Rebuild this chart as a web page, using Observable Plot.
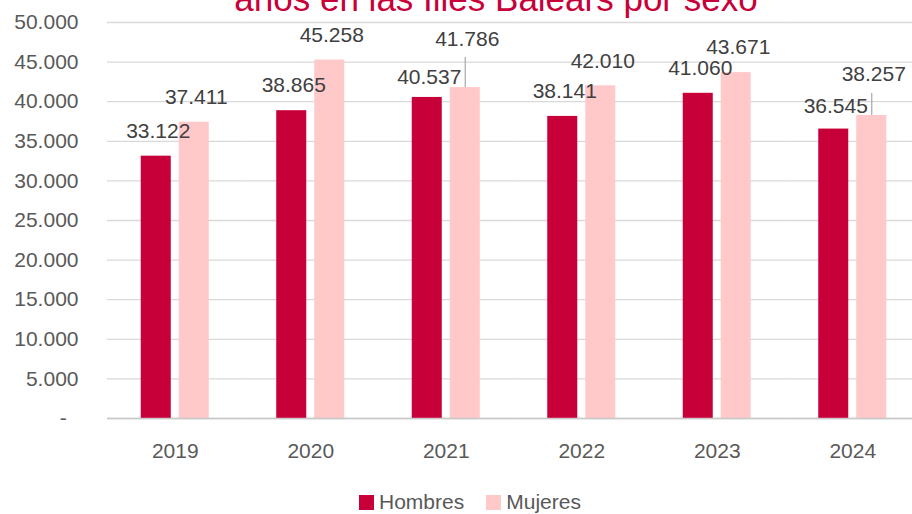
<!DOCTYPE html>
<html><head><meta charset="utf-8">
<script src="https://cdn.jsdelivr.net/npm/d3@7"></script>
<script src="https://cdn.jsdelivr.net/npm/@observablehq/plot@0.6"></script>
<style>
html,body{margin:0;padding:0;width:912px;height:514px;overflow:hidden;background:#fff;font-family:"Liberation Sans",Arial,sans-serif;}
#title{position:absolute;left:0;top:-18px;width:992px;text-align:center;font-size:35px;line-height:34px;color:#C8003A;white-space:nowrap;}
#chart{position:absolute;left:0;top:0;width:912px;height:470px;overflow:hidden;}
#chart svg{max-width:none !important;}
#legend{position:absolute;left:359px;top:490px;display:flex;align-items:center;font-size:21px;color:#595959;line-height:24px;}
#legend .sw{display:inline-block;width:15px;height:15px;margin-right:5px;}
#legend .item{display:flex;align-items:center;margin-right:22px;}
</style>
</head><body>
<div id="title"></div>
<div id="chart"></div>
<div id="legend"></div>
<script>
const years = ["2019", "2020", "2021", "2022", "2023", "2024"];
const hombres = [33122, 38865, 40537, 38141, 41060, 36545];
const mujeres = [37411, 45258, 41786, 42010, 43671, 38257];
const seriesNames = ["Hombres", "Mujeres"];
const seriesColors = ["#C8003A", "#FFC9C9"];
const yTicks = [0, 5000, 10000, 15000, 20000, 25000, 30000, 35000, 40000, 45000, 50000];
const titleText = "años en las Illes Balears por sexo";

// label placement nudges (pixels), default and exceptions
const defaultNudge = [2, -25];
const labelNudge = {"2021|Hombres": [2, -20], "2021|Mujeres": [2, -48], "2024|Hombres": [2, -23], "2024|Mujeres": [2, -41]};
const leaderLen = {"2021|Mujeres": 30, "2024|Mujeres": 22};

const rows = [];
years.forEach((yr, i) => {
  rows.push({year: yr, sex: "Hombres", value: hombres[i]});
  rows.push({year: yr, sex: "Mujeres", value: mujeres[i]});
});

const fmt = v => v === 0 ? "-\u00a0\u00a0" : d3.format(",")(v).replace(/,/g, ".");

document.getElementById("title").textContent = titleText;

const labelMarks = rows.map(r => {
  const k = r.year + "|" + r.sex;
  const [dx, dy] = labelNudge[k] || defaultNudge;
  return Plot.text([r], {fx: "year", x: "sex", y: "value", text: d => fmt(d.value),
    dx, dy, lineAnchor: "middle", fill: "#404040", fontSize: 21});
});
const leaderMarks = rows.filter(r => leaderLen[r.year + "|" + r.sex]).map(r =>
  Plot.ruleX([r], {fx: "year", x: "sex", y1: "value", y2: "value",
    insetTop: -leaderLen[r.year + "|" + r.sex], stroke: "#A6A6A6", strokeWidth: 1.2}));

const chart = Plot.plot({
  width: 920, height: 470,
  marginLeft: 107, marginRight: 0, marginTop: 22, marginBottom: 52,
  style: {fontFamily: "Liberation Sans, Arial, sans-serif", fontSize: "21px", color: "#595959", background: "transparent", overflow: "visible", maxWidth: "none"},
  fx: {domain: years, padding: 0, round: false, label: null},
  x: {domain: seriesNames, paddingInner: 0.21, paddingOuter: 0.888, round: false, axis: null},
  y: {domain: [0, 50000], label: null},
  color: {domain: seriesNames, range: seriesColors},
  marks: [
    Plot.gridY(yTicks, {stroke: "#D9D9D9", strokeOpacity: 1, strokeWidth: 1.3}),
    Plot.axisY(yTicks, {tickFormat: fmt, tickSize: 0, tickPadding: 29, fontSize: 21, fill: "#595959", label: null}),
    Plot.axisFx({anchor: "bottom", tickSize: 0, tickPadding: 25, fontSize: 21, fill: "#595959", label: null}),
    Plot.barY(rows, {fx: "year", x: "sex", y: "value", fill: "sex"}),
    Plot.ruleY([0], {stroke: "#C8C8C8", strokeWidth: 1.5}),
    ...leaderMarks,
    ...labelMarks
  ]
});
chart.style.maxWidth = "none";
document.getElementById("chart").appendChild(chart);

const legend = document.getElementById("legend");
seriesNames.forEach((s, i) => {
  const item = document.createElement("div");
  item.className = "item";
  const sw = document.createElement("span");
  sw.className = "sw";
  sw.style.background = seriesColors[i];
  item.appendChild(sw);
  item.appendChild(document.createTextNode(s));
  legend.appendChild(item);
});
</script>
</body></html>
